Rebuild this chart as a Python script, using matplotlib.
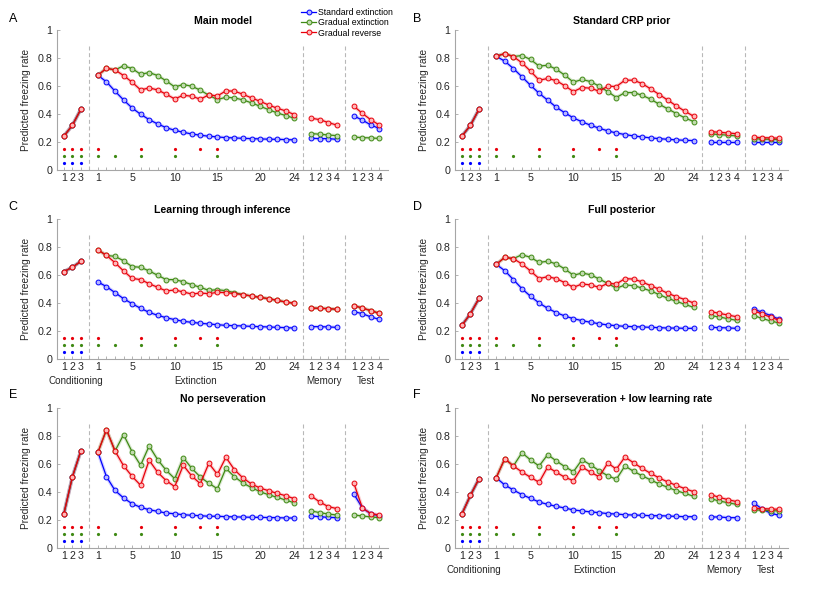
import matplotlib
matplotlib.use('Agg')
import matplotlib.pyplot as plt
from matplotlib.lines import Line2D

plt.rcParams['font.family'] = ['Liberation Sans', 'DejaVu Sans']

# ---------------- data ----------------
phase_names = ["Conditioning", "Extinction", "Memory", "Test"]
phase_lengths = [3, 24, 4, 4]
ext_tick_labels = [1, 5, 10, 15, 20, 24]
series_names = ["Standard extinction", "Gradual extinction", "Gradual reverse"]
shock_rev_ext = [1, 6, 10, 13, 15]
shock_grad_ext = [1, 3, 6, 10, 15]
shock_cond = [1, 2, 3]

titles = ["Main model", "Standard CRP prior", "Learning through inference",
          "Full posterior", "No perseveration", "No perseveration + low learning rate"]
letters = ["A", "B", "C", "D", "E", "F"]

# each list: conditioning(3) + extinction(24) + memory(4) + test(4)
A_std = [0.242, 0.32, 0.434,
         0.675, 0.628, 0.562, 0.5, 0.443, 0.398, 0.36, 0.329, 0.303, 0.284, 0.27, 0.258,
         0.249, 0.242, 0.237, 0.232, 0.23, 0.227, 0.225, 0.223, 0.221, 0.22, 0.218, 0.216,
         0.227, 0.225, 0.225, 0.22,
         0.386, 0.356, 0.322, 0.296]
A_grad = [0.242, 0.32, 0.434,
          0.675, 0.725, 0.713, 0.742, 0.723, 0.682, 0.694, 0.673, 0.635, 0.592, 0.609, 0.597,
          0.569, 0.533, 0.502, 0.519, 0.514, 0.5, 0.479, 0.455, 0.431, 0.408, 0.389, 0.37,
          0.261, 0.256, 0.251, 0.246,
          0.236, 0.232, 0.23, 0.226]
A_rev = [0.242, 0.32, 0.434,
         0.675, 0.725, 0.713, 0.673, 0.626, 0.571, 0.585, 0.571, 0.54, 0.507, 0.533, 0.526,
         0.505, 0.536, 0.528, 0.564, 0.562, 0.54, 0.514, 0.49, 0.464, 0.441, 0.422, 0.396,
         0.37, 0.36, 0.339, 0.321,
         0.455, 0.404, 0.358, 0.321]

B_std = [0.242, 0.32, 0.434,
         0.81, 0.775, 0.723, 0.664, 0.604, 0.547, 0.498, 0.448, 0.408, 0.372, 0.344, 0.32,
         0.299, 0.28, 0.265, 0.254, 0.244, 0.237, 0.23, 0.225, 0.22, 0.216, 0.213, 0.211,
         0.204, 0.204, 0.204, 0.204,
         0.2, 0.2, 0.2, 0.2]
B_grad = [0.242, 0.32, 0.434,
          0.81, 0.829, 0.808, 0.815, 0.787, 0.74, 0.746, 0.718, 0.675, 0.626, 0.645, 0.63,
          0.597, 0.559, 0.517, 0.552, 0.552, 0.533, 0.505, 0.469, 0.436, 0.403, 0.372, 0.346,
          0.258, 0.254, 0.249, 0.244,
          0.225, 0.221, 0.22, 0.218]
B_rev = [0.242, 0.32, 0.434,
         0.81, 0.829, 0.808, 0.763, 0.704, 0.64, 0.652, 0.637, 0.6, 0.559, 0.588, 0.583,
         0.562, 0.597, 0.595, 0.64, 0.64, 0.616, 0.578, 0.538, 0.498, 0.457, 0.419, 0.384,
         0.275, 0.27, 0.265, 0.26,
         0.235, 0.232, 0.23, 0.228]

C_std = [0.624, 0.655, 0.698,
         0.55, 0.517, 0.474, 0.431, 0.395, 0.362, 0.333, 0.312, 0.295, 0.281, 0.269, 0.262,
         0.255, 0.25, 0.245, 0.24, 0.238, 0.236, 0.233, 0.231, 0.229, 0.226, 0.224, 0.221,
         0.231, 0.231, 0.229, 0.226,
         0.338, 0.324, 0.3, 0.283]
C_grad = [0.624, 0.655, 0.698,
          0.779, 0.74, 0.733, 0.702, 0.66, 0.655, 0.629, 0.598, 0.567, 0.567, 0.552, 0.531,
          0.512, 0.49, 0.495, 0.488, 0.474, 0.46, 0.45, 0.44, 0.431, 0.419, 0.407, 0.398,
          0.364, 0.362, 0.36, 0.355,
          0.381, 0.364, 0.345, 0.326]
C_rev = [0.624, 0.655, 0.698,
         0.779, 0.74, 0.688, 0.629, 0.576, 0.567, 0.538, 0.512, 0.486, 0.493, 0.479, 0.464,
         0.471, 0.467, 0.476, 0.474, 0.467, 0.46, 0.45, 0.44, 0.431, 0.419, 0.407, 0.398,
         0.364, 0.362, 0.36, 0.355,
         0.381, 0.364, 0.345, 0.326]

D_std = [0.24, 0.324, 0.433,
         0.676, 0.631, 0.567, 0.502, 0.448, 0.4, 0.362, 0.331, 0.307, 0.288, 0.274, 0.262,
         0.252, 0.243, 0.238, 0.233, 0.231, 0.229, 0.226, 0.224, 0.221, 0.221, 0.219, 0.219,
         0.226, 0.224, 0.222, 0.219,
         0.357, 0.333, 0.31, 0.283]
D_grad = [0.24, 0.324, 0.433,
          0.676, 0.726, 0.717, 0.745, 0.726, 0.69, 0.698, 0.679, 0.643, 0.598, 0.614, 0.602,
          0.571, 0.54, 0.505, 0.529, 0.524, 0.507, 0.486, 0.46, 0.433, 0.412, 0.39, 0.369,
          0.31, 0.3, 0.288, 0.276,
          0.31, 0.29, 0.271, 0.257]
D_rev = [0.24, 0.324, 0.433,
         0.676, 0.726, 0.717, 0.679, 0.629, 0.574, 0.588, 0.574, 0.545, 0.512, 0.536, 0.529,
         0.512, 0.54, 0.536, 0.574, 0.571, 0.55, 0.524, 0.498, 0.469, 0.445, 0.424, 0.4,
         0.338, 0.326, 0.314, 0.302,
         0.345, 0.321, 0.298, 0.276]

E_std = [0.241, 0.506, 0.694,
         0.683, 0.508, 0.41, 0.356, 0.315, 0.289, 0.272, 0.26, 0.248, 0.243, 0.236, 0.232,
         0.229, 0.225, 0.225, 0.222, 0.221, 0.219, 0.218, 0.217, 0.216, 0.215, 0.213, 0.212,
         0.227, 0.222, 0.217, 0.215,
         0.384, 0.284, 0.242, 0.229]
E_grad = [0.241, 0.506, 0.694,
          0.683, 0.845, 0.692, 0.809, 0.687, 0.59, 0.728, 0.63, 0.554, 0.494, 0.644, 0.568,
          0.506, 0.461, 0.422, 0.568, 0.508, 0.463, 0.43, 0.401, 0.379, 0.361, 0.341, 0.322,
          0.263, 0.251, 0.241, 0.234,
          0.234, 0.227, 0.22, 0.215]
E_rev = [0.241, 0.506, 0.694,
         0.683, 0.845, 0.692, 0.587, 0.511, 0.447, 0.626, 0.54, 0.48, 0.437, 0.59, 0.513,
         0.458, 0.604, 0.525, 0.647, 0.558, 0.499, 0.456, 0.427, 0.408, 0.389, 0.372, 0.351,
         0.37, 0.327, 0.294, 0.28,
         0.461, 0.284, 0.244, 0.234]

F_std = [0.241, 0.375, 0.494,
         0.501, 0.449, 0.413, 0.38, 0.353, 0.327, 0.31, 0.296, 0.284, 0.27, 0.263, 0.256,
         0.251, 0.244, 0.241, 0.236, 0.234, 0.232, 0.229, 0.229, 0.227, 0.224, 0.222, 0.222,
         0.22, 0.22, 0.215, 0.215,
         0.32, 0.277, 0.246, 0.232]
F_grad = [0.241, 0.375, 0.494,
          0.501, 0.637, 0.585, 0.68, 0.628, 0.585, 0.666, 0.621, 0.58, 0.544, 0.63, 0.592,
          0.551, 0.515, 0.49, 0.585, 0.547, 0.515, 0.485, 0.456, 0.432, 0.408, 0.389, 0.368,
          0.351, 0.334, 0.322, 0.31,
          0.27, 0.269, 0.265, 0.263]
F_rev = [0.241, 0.375, 0.494,
         0.501, 0.637, 0.585, 0.542, 0.504, 0.468, 0.578, 0.54, 0.504, 0.48, 0.578, 0.54,
         0.508, 0.606, 0.563, 0.649, 0.608, 0.568, 0.532, 0.499, 0.47, 0.446, 0.422, 0.401,
         0.38, 0.36, 0.344, 0.33,
         0.282, 0.28, 0.277, 0.275]

panels = [(A_std, A_grad, A_rev), (B_std, B_grad, B_rev), (C_std, C_grad, C_rev),
          (D_std, D_grad, D_rev), (E_std, E_grad, E_rev), (F_std, F_grad, F_rev)]
show_groups = [False, False, True, False, False, True]

# ---------------- style ----------------
BLUE = '#0000ff'
GREEN = '#3f8a14'
RED = '#e8000b'
LIGHT = {BLUE: '#b8b8ff', GREEN: '#c2dbb0', RED: '#ffb8b8'}
colors = [BLUE, GREEN, RED]
SPINE = '#a6a6a6'
TXT = '#262626'
TICK_FS = 7.7

W, H = 830, 593
fig = plt.figure(figsize=(W / 100, H / 100), dpi=100)

# x positions for each phase (one empty slot between phases)
starts = []
s = 1
for n in phase_lengths:
    starts.append(s)
    s += n + 1
phase_x = [[st + i for i in range(n)] for st, n in zip(starts, phase_lengths)]
separators = [st - 1 for st in starts[1:]]
group_offsets = [0.4, 0.0, 0.0, -0.1]
group_centers = [(px[0] + px[-1]) / 2 + o for px, o in zip(phase_x, group_offsets)]

# tick positions & labels
tick_pos, tick_lab = [], []
for k, px in enumerate(phase_x):
    for i, x in enumerate(px):
        tick_pos.append(x)
        trial = i + 1
        if k == 1:
            tick_lab.append(str(trial) if trial in ext_tick_labels else '')
        else:
            tick_lab.append(str(trial))

# panel boxes in pixels: left, top, right, bottom
col_lr = [(57, 388), (455, 788)]
row_tb = [(29.5, 170.3), (219, 359), (408, 547.7)]
letter_px = [(13, 19), (417, 19), (13, 207), (417, 207), (13, 395), (417, 395)]

for p in range(6):
    r, c = divmod(p, 2)
    l, rr = col_lr[c]
    t, b = row_tb[r]
    ax = fig.add_axes([l / W, 1 - b / H, (rr - l) / W, (b - t) / H])
    ax.set_xlim(0.2, 39)
    ax.set_ylim(0, 1)

    # separators
    for sx in separators:
        ax.plot([sx, sx], [0, 0.9], color='#b8b8b8', lw=0.8, dashes=(3.6, 2.4), zorder=1)

    # series
    for si, (vals, col) in enumerate(zip(panels[p], colors)):
        idx = 0
        for px in phase_x:
            seg = vals[idx:idx + len(px)]
            idx += len(px)
            ax.plot(px, seg, color=col, lw=2.6, alpha=0.18, solid_capstyle='round',
                    zorder=2 + si)
            ax.plot(px, seg, color=col, lw=0.9, marker='o', ms=3.5, mfc=LIGHT[col],
                    mec=col, mew=0.7, zorder=3 + si)

    # shock indicators
    ext_x = phase_x[1]
    red_x = shock_cond + [ext_x[i - 1] for i in shock_rev_ext]
    grn_x = shock_cond + [ext_x[i - 1] for i in shock_grad_ext]
    ax.plot(red_x, [0.15] * len(red_x), 'o', color=RED, ms=2.3, mew=0, zorder=5)
    ax.plot(grn_x, [0.10] * len(grn_x), 'o', color=GREEN, ms=2.3, mew=0, zorder=5)
    ax.plot(shock_cond, [0.05] * len(shock_cond), 'o', color=BLUE, ms=2.3, mew=0, zorder=5)

    # axes styling
    for side in ['top', 'right']:
        ax.spines[side].set_visible(False)
    for side in ['left', 'bottom']:
        ax.spines[side].set_color(SPINE)
        ax.spines[side].set_linewidth(0.8)
    ax.set_xticks(tick_pos)
    ax.set_xticklabels(tick_lab)
    ax.set_yticks([0, 0.2, 0.4, 0.6, 0.8, 1])
    ax.set_yticklabels(['0', '0.2', '0.4', '0.6', '0.8', '1'])
    ax.tick_params(axis='both', direction='in', length=2.5, width=0.6, color=SPINE,
                   labelsize=TICK_FS, labelcolor=TXT)
    ax.tick_params(axis='x', pad=2.3)
    ax.tick_params(axis='y', pad=3.3)
    ax.set_ylabel('Predicted freezing rate', fontsize=7.3, color=TXT)
    ax.yaxis.set_label_coords(-0.078, 0.5)
    ax.set_title(titles[p], fontsize=7.6, fontweight='bold', pad=4, color='black')

    if show_groups[p]:
        for name, cx in zip(phase_names, group_centers):
            ax.text(cx, -0.157, name, transform=ax.get_xaxis_transform(),
                    ha='center', va='center', fontsize=7.1, color=TXT)

    lx, ly = letter_px[p]
    fig.text(lx / W, 1 - ly / H, letters[p], fontsize=9, ha='center', va='center',
             color='black')

    if p == 0:
        handles = [Line2D([0], [0], color=col, lw=0.9, marker='o', ms=3.5,
                          mfc=LIGHT[col], mec=col, mew=0.7) for col in colors]
        ax.legend(handles, series_names, loc='upper left',
                  bbox_to_anchor=(301 / W, 1 - 8.4 / H), bbox_transform=fig.transFigure,
                  frameon=False, fontsize=6.3, handlelength=1.75, handletextpad=0.25,
                  labelspacing=0.12, borderpad=0, borderaxespad=0)

fig.savefig('out.png', dpi=100)
